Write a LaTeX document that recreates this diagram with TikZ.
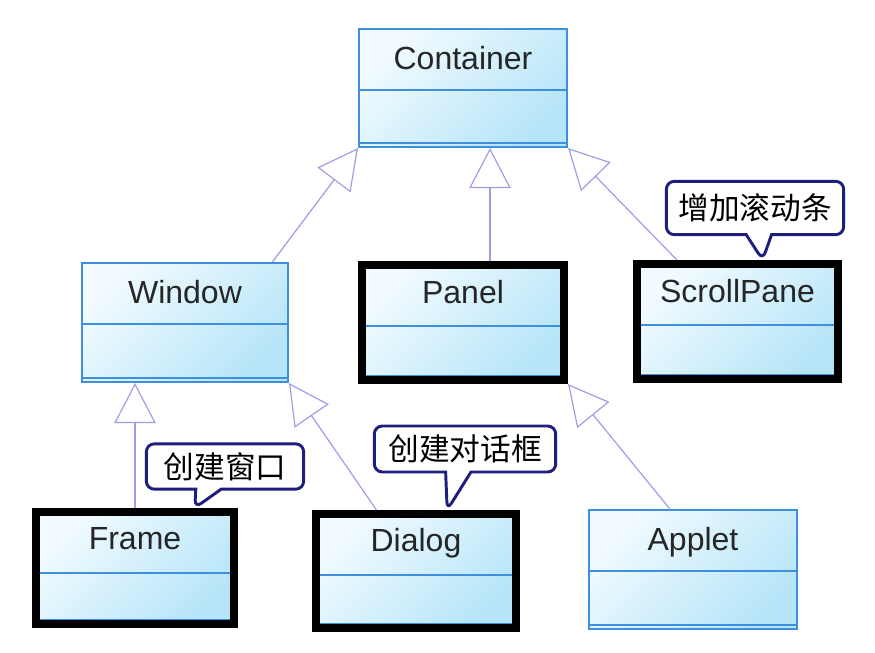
\documentclass[tikz,border=0pt]{standalone}
\usepackage{fontspec}
\setmainfont{Liberation Sans}
\newfontfamily\cjk{Noto Sans CJK SC}
\usetikzlibrary{arrows.meta, calc, shapes.callouts}

\definecolor{umlblue}{HTML}{3F8FDF}
\definecolor{boxlight}{HTML}{F2FBFF}
\definecolor{boxdark}{HTML}{B6E5F8}
\definecolor{inheritline}{HTML}{9E9EE6}
\definecolor{notenavy}{HTML}{1E1E7E}

\tikzset{
  klass/.style={draw=umlblue, line width=1.5pt, top color=boxlight, bottom color=boxdark,
    shading angle=45, inner sep=0pt,
    path picture={
      \draw[umlblue, line width=1.5pt] ($(path picture bounding box.north west)+(0,61)$) -- ($(path picture bounding box.north east)+(0,61)$);
      \draw[umlblue, line width=1.5pt] ($(path picture bounding box.south west)+(0,-4)$) -- ($(path picture bounding box.south east)+(0,-4)$);
    }},
  boldklass/.style={klass, draw=black, line width=6pt},
  klassname/.style={anchor=base, text=black!85, font=\fontsize{24}{28}\selectfont},
  extends/.style={inheritline, line width=0.9pt, -{Triangle[open, length=30pt, width=31pt]}},
  note/.style={rectangle callout, draw=notenavy, line width=2.2pt, fill=white, rounded corners=6pt,
    callout pointer width=19pt, inner sep=2pt, font=\cjk\fontsize{23}{26}\selectfont}
}

\begin{document}
\begin{tikzpicture}[x=0.75pt, y=-0.75pt]

    \useasboundingbox (0,0) rectangle (875,653);

    % Classes
    \node[klass, minimum width=156pt, minimum height=88.5pt] (container) at (463,88) {};
    \node[klass, minimum width=154.5pt, minimum height=89.25pt] (window) at (185,322.5) {};
    \node[boldklass, minimum width=151.5pt, minimum height=86.25pt] (panel) at (463,322.5) {};
    \node[boldklass, minimum width=150.75pt, minimum height=86.25pt] (scrollpane) at (737.5,321.5) {};
    \node[boldklass, minimum width=148.5pt, minimum height=84pt] (frame) at (135,568) {};
    \node[boldklass, minimum width=150pt, minimum height=85.5pt] (dialog) at (416,571) {};
    \node[klass, minimum width=156pt, minimum height=89.25pt] (applet) at (693,569.5) {};

    % Class names
    \node[klassname] (container-name) at ($(container.north)+(0,41)$) {Container};
    \node[klassname] (window-name) at ($(window.north)+(0,41)$) {Window};
    \node[klassname] (panel-name) at ($(panel.north)+(0,42)$) {Panel};
    \node[klassname] (scrollpane-name) at ($(scrollpane.north)+(0,42)$) {ScrollPane};
    \node[klassname] (frame-name) at ($(frame.north)+(0,41)$) {Frame};
    \node[klassname] (dialog-name) at ($(dialog.north)+(0,41)$) {Dialog};
    \node[klassname] (applet-name) at ($(applet.north)+(0,41)$) {Applet};

    % Inheritance
    \coordinate (panel-top) at ($(panel.north)+(27,0)$);
    \draw[extends] ($(window.north west)!0.92!(window.north east)$) -- (container.south west);
    \draw[extends] (panel-top) -- (panel-top |- container.south);
    \draw[extends] ($(scrollpane.north west)!0.21!(scrollpane.north east)$) -- (container.south east);
    \draw[extends] (frame.north) -- (frame.north |- window.south);
    \draw[extends] ($(dialog.north west)!0.31!(dialog.north east)$) -- (window.south east);
    \draw[extends] ($(applet.north west)!0.39!(applet.north east)$) -- (panel.south east);

    % Notes
    \node[note, minimum width=133pt, minimum height=40pt,
      callout absolute pointer={($(scrollpane.north west)!0.62!(scrollpane.north east)$)}] (scrollpane-note) at (755,208) {增加滚动条};
    \node[note, minimum width=118pt, minimum height=34pt,
      callout absolute pointer={($(frame.north west)!0.79!(frame.north east)$)}] (frame-note) at (225,466.5) {创建窗口};
    \node[note, minimum width=136pt, minimum height=34.5pt,
      callout absolute pointer={($(dialog.north west)!0.65!(dialog.north east)$)}] (dialog-note) at (465,449) {创建对话框};

\end{tikzpicture}
\end{document}
